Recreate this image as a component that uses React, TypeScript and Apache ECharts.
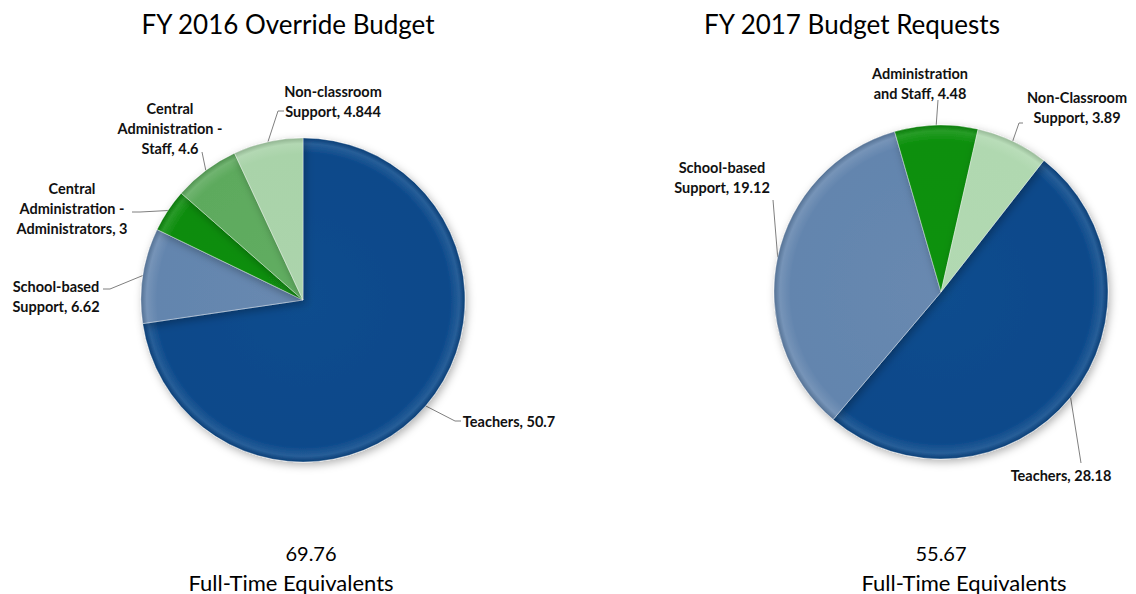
import React, { useEffect, useRef } from 'react';
import * as echarts from 'echarts';

// ---- Data ----
const categories2016 = [
  'Teachers',
  'School-based\nSupport',
  'Central\nAdministration -\nAdministrators',
  'Central\nAdministration -\nStaff',
  'Non-classroom\nSupport',
];
const values2016 = [50.7, 6.62, 3, 4.6, 4.844];

const categories2017 = [
  'Teachers',
  'School-based\nSupport',
  'Administration\nand Staff',
  'Non-Classroom\nSupport',
];
const values2017 = [28.18, 19.12, 4.48, 3.89];

const chartTitles = ['FY 2016 Override Budget', 'FY 2017 Budget Requests'];
const footerUnit = 'Full-Time Equivalents';

// ---- Styles / layout ----
const colors2016 = ['#0A488A', '#6385AE', '#0C8C0C', '#5DAA5D', '#A9D3A9'];
const colors2017 = ['#0A488A', '#6385AE', '#0A8F0A', '#B0D8B0'];

const FONT = "Lato, 'Open Sans', 'DejaVu Sans', sans-serif";

// label centre x, y, elbow x, y, end x, y
const labelPos2016 = [
  [509, 421, 455, 421, 461, 421],
  [56, 296, 110, 289, 103, 289],
  [72, 208, 140, 212, 132, 212],
  [170, 128, 202, 152, 202, 152],
  [333, 101, 278, 111, 284, 111],
];
const labelPos2017 = [
  [1061, 475, 1081, 463, 1081, 463],
  [722, 177, 773, 200, 773, 200],
  [920, 83, 938, 100, 938, 100],
  [1077, 107, 1019, 123, 1023, 123],
];

function shade(hex: string, f: number) {
  const n = parseInt(hex.slice(1), 16);
  let r = (n >> 16) & 255, g = (n >> 8) & 255, b = n & 255;
  const m = (c: number) =>
    Math.max(0, Math.min(255, Math.round(f >= 0 ? c + (255 - c) * f : c * (1 + f))));
  return `rgb(${m(r)},${m(g)},${m(b)})`;
}

function makeSeries(
  names: string[],
  values: number[],
  colors: string[],
  center: [number, number],
  radius: number,
  startAngle: number,
  pos: number[][]
) {
  return {
    type: 'pie',
    center,
    radius,
    startAngle,
    clockwise: true,
    avoidLabelOverlap: false,
    data: names.map((n, i) => ({
      name: n,
      value: values[i],
      itemStyle: {
        color: new echarts.graphic.RadialGradient(
          center[0],
          center[1],
          radius,
          [
            { offset: 0, color: shade(colors[i], 0.03) },
            { offset: 0.9, color: colors[i] },
            { offset: 0.965, color: shade(colors[i], 0.12) },
            { offset: 1, color: shade(colors[i], -0.15) },
          ],
          true
        ),
      },
    })),
    itemStyle: {
      borderColor: 'rgba(255,255,255,0.35)',
      borderWidth: 1,
      shadowBlur: 8,
      shadowColor: 'rgba(0,0,0,0.3)',
      shadowOffsetX: 2,
      shadowOffsetY: 3,
    },
    label: {
      show: true,
      position: 'outside',
      formatter: (p: any) => `${p.name}, ${p.value}`,
      fontFamily: FONT,
      fontWeight: 'bold',
      fontSize: 14.5,
      lineHeight: 20,
      color: '#111',
      align: 'center',
    },
    labelLine: {
      show: true,
      lineStyle: { color: '#7f7f7f', width: 1 },
    },
    labelLayout: (params: any) => {
      const p = pos[params.dataIndex];
      const p0 = params.labelLinePoints ? params.labelLinePoints[0] : [p[2], p[3]];
      return {
        x: p[0],
        y: p[1],
        align: 'center',
        verticalAlign: 'middle',
        labelLinePoints: [
          [p0[0], p0[1]],
          [p[2], p[3]],
          [p[4], p[5]],
        ],
      };
    },
    emphasis: { disabled: true },
  };
}

const sum = (a: number[]) => a.reduce((s, v) => s + v, 0);

export default function App() {
  const ref = useRef<HTMLDivElement>(null);
  useEffect(() => {
    if (!ref.current) return;
    const chart = echarts.init(ref.current, undefined, { renderer: 'svg' });
    const titleStyle = { fontFamily: FONT, fontSize: 26, fill: '#000' };
    const numStyle = { fontFamily: FONT, fontSize: 20, fill: '#000' };
    const footStyle = { fontFamily: FONT, fontSize: 22, fill: '#000' };
    chart.setOption({
      animation: false,
      backgroundColor: '#fff',
      series: [
        makeSeries(categories2016, values2016, colors2016, [303, 300], 162, 90, labelPos2016),
        makeSeries(categories2017, values2017, colors2017, [941, 292], 167, 52, labelPos2017),
      ],
      graphic: [
        { type: 'text', x: 288, y: 24, style: { ...titleStyle, text: chartTitles[0], align: 'center', verticalAlign: 'middle' } },
        { type: 'text', x: 852, y: 24, style: { ...titleStyle, text: chartTitles[1], align: 'center', verticalAlign: 'middle' } },
        { type: 'text', x: 311, y: 553, style: { ...numStyle, text: sum(values2016).toFixed(2), align: 'center', verticalAlign: 'middle' } },
        { type: 'text', x: 291, y: 582, style: { ...footStyle, text: footerUnit, align: 'center', verticalAlign: 'middle' } },
        { type: 'text', x: 941, y: 553, style: { ...numStyle, text: sum(values2017).toFixed(2), align: 'center', verticalAlign: 'middle' } },
        { type: 'text', x: 964, y: 582, style: { ...footStyle, text: footerUnit, align: 'center', verticalAlign: 'middle' } },
      ],
    });
    return () => chart.dispose();
  }, []);
  return (
    <div
      ref={ref}
      style={{ position: 'fixed', left: 0, top: 0, width: 1136, height: 594, background: '#fff' }}
    />
  );
}
